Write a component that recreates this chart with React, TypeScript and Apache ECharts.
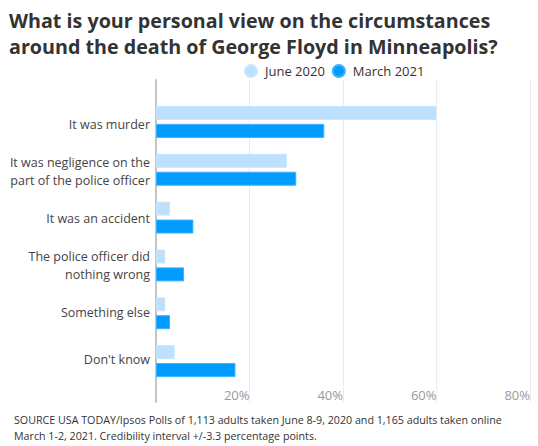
import React, { useEffect, useRef } from 'react';
import * as echarts from 'echarts';

const categories = [
  'It was murder',
  'It was negligence on the\npart of the police officer',
  'It was an accident',
  'The police officer did\nnothing wrong',
  'Something else',
  "Don't know",
];
const june2020 = [60, 28, 3, 2, 2, 4];
const march2021 = [36, 30, 8, 6, 3, 17];
const seriesNames = ['June 2020', 'March 2021'];
const axisTicks = [0, 20, 40, 60, 80];

const TITLE = 'What is your personal view on the circumstances\naround the death of George Floyd in Minneapolis?';
const SOURCE =
  'SOURCE USA TODAY/Ipsos Polls of 1,113 adults taken June 8-9, 2020 and 1,165 adults taken online\nMarch 1-2, 2021. Credibility interval +/-3.3 percentage points.';

const FONT = '"Open Sans", sans-serif';

const App: React.FC = () => {
  const chartRef = useRef<HTMLDivElement>(null);

  useEffect(() => {
    if (!chartRef.current) return;
    const chart = echarts.init(chartRef.current, undefined, { renderer: 'svg' });

    const maxTick = axisTicks[axisTicks.length - 1];
    const step = axisTicks[1] - axisTicks[0];

    const option = {
      animation: false,
      textStyle: { fontFamily: FONT },
      title: [
        {
          text: TITLE,
          left: 9,
          top: 7,
          padding: 0,
          textStyle: {
            fontFamily: FONT,
            fontSize: 19.7,
            fontWeight: 'bold',
            color: '#333333',
            lineHeight: 26,
          },
        },
        {
          text: SOURCE,
          left: 9,
          top: 407,
          textStyle: {
            fontFamily: FONT,
            fontSize: 10.7,
            fontWeight: 'normal',
            color: '#333333',
            lineHeight: 16,
          },
        },
      ],
      legend: {
        data: seriesNames,
        left: 244,
        top: 64,
        padding: 0,
        icon: 'circle',
        itemWidth: 12,
        itemHeight: 12,
        itemGap: 7,
        textStyle: { fontFamily: FONT, fontSize: 13, color: '#333333', padding: [0, 0, 0, 3] },
      },
      grid: [
        // background grid for gridlines and tick labels
        { left: 156, right: 8, top: 80, bottom: 44 },
        // bars
        { left: 156, right: 8, top: 98, bottom: 61 },
        // category labels
        { left: 156, right: 8, top: 100.5, bottom: 63.5 },
      ],
      xAxis: [
        {
          type: 'value',
          gridIndex: 0,
          min: 0,
          max: maxTick,
          interval: step,
          axisLine: { show: false },
          axisTick: { show: false },
          splitLine: { show: true, lineStyle: { color: '#ebebeb', width: 1 } },
          axisLabel: {
            inside: true,
            align: 'right',
            verticalAlign: 'bottom',
            margin: 1,
            color: '#999999',
            fontSize: 13,
            fontFamily: FONT,
            formatter: (v: number) => (v === 0 ? '' : v + '%'),
          },
        },
        { type: 'value', gridIndex: 1, min: 0, max: maxTick, interval: step, show: false },
        { type: 'value', gridIndex: 2, min: 0, max: maxTick, interval: step, show: false },
      ],
      yAxis: [
        {
          type: 'category',
          gridIndex: 0,
          data: [''],
          axisLine: { show: true, lineStyle: { color: '#c4c4c4', width: 2 } },
          axisTick: { show: false },
          axisLabel: { show: false },
        },
        {
          type: 'category',
          gridIndex: 1,
          data: categories,
          inverse: true,
          axisLine: { show: false },
          axisTick: { show: false },
          axisLabel: { show: false },
        },
        {
          type: 'category',
          gridIndex: 2,
          data: categories,
          inverse: true,
          axisLine: { show: false },
          axisTick: { show: false },
          splitLine: { show: false },
          axisLabel: {
            color: '#444444',
            fontSize: 12.5,
            fontFamily: FONT,
            lineHeight: 18,
            margin: 6,
            align: 'right',
          },
        },
      ],
      series: [
        {
          name: seriesNames[0],
          type: 'bar',
          xAxisIndex: 1,
          yAxisIndex: 1,
          data: june2020,
          barWidth: 14,
          barGap: '28%',
          itemStyle: { color: '#bde0fe', borderColor: '#cbe7fe', borderWidth: 1 },
        },
        {
          name: seriesNames[1],
          type: 'bar',
          xAxisIndex: 1,
          yAxisIndex: 1,
          data: march2021,
          barWidth: 14,
          barGap: '28%',
          itemStyle: { color: '#009bff', borderColor: '#3ab2ff', borderWidth: 1 },
        },
      ],
    };

    chart.setOption(option);

    return () => {
      chart.dispose();
    };
  }, []);

  return (
    <div
      ref={chartRef}
      style={{ position: 'fixed', left: 0, top: 0, width: 538, height: 446, background: '#ffffff' }}
    />
  );
};

export default App;
